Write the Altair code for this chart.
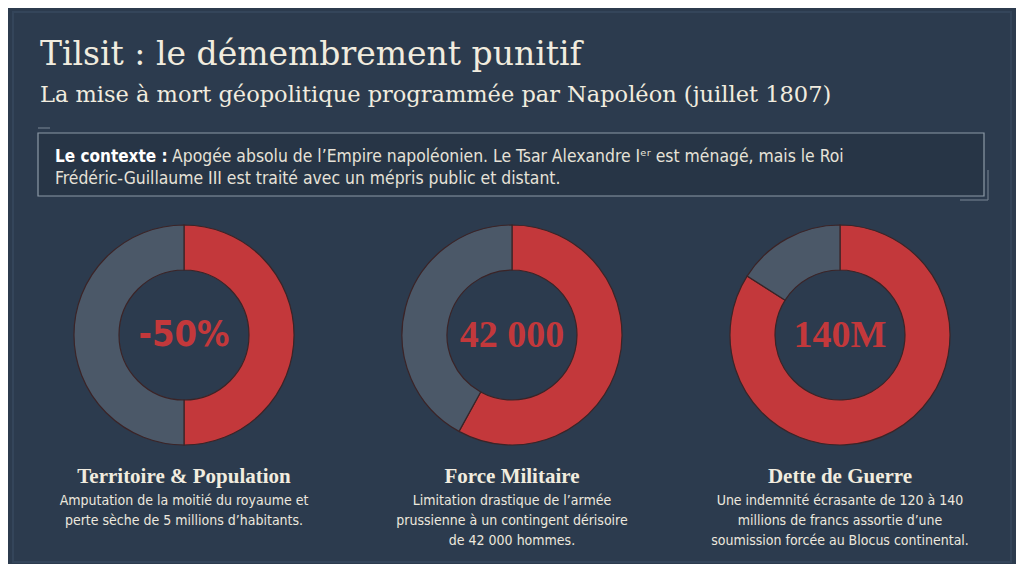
import altair as alt
import pandas as pd

# ---------------- data ----------------
panels = ["Territoire & Population", "Force Militaire", "Dette de Guerre"]
impact_share = [50, 58, 84]      # red part of each ring (read from the arcs)
rest_share = [50, 42, 16]        # grey remainder
center_labels = ["-50%", "42 000", "140M"]
descriptions = [
    "Amputation de la moitié du royaume et\nperte sèche de 5 millions d’habitants.",
    "Limitation drastique de l’armée\nprussienne à un contingent dérisoire\nde 42 000 hommes.",
    "Une indemnité écrasante de 120 à 140\nmillions de francs assortie d’une\nsoumission forcée au Blocus continental.",
]
title_text = "Tilsit : le démembrement punitif"
subtitle_text = "La mise à mort géopolitique programmée par Napoléon (juillet 1807)"
context_lead = "Le contexte :"
context_lines = [
    "Apogée absolu de l’Empire napoléonien. Le Tsar Alexandre Iᵉʳ est ménagé, mais le Roi",
    "Frédéric-Guillaume III est traité avec un mépris public et distant.",
]

# ---------------- styles ----------------
BG = "#2c3b4e"
RED = "#c3383b"
GREY = "#4b5868"
CREAM = "#f1ecdf"
SERIF = "DejaVu Serif"
SERIF2 = "Liberation Serif"
SANS = "DejaVu Sans Condensed, Roboto"

ring_rows = []
for i, p in enumerate(panels):
    ring_rows.append({"panel": p, "part": "impact", "value": impact_share[i], "order": 0})
    ring_rows.append({"panel": p, "part": "reste", "value": rest_share[i], "order": 1})
ring_df = pd.DataFrame(ring_rows)

panel_df = pd.DataFrame({"panel": panels, "label": center_labels, "desc": descriptions})

xscale = alt.Scale(domain=panels, range=[176, 832], padding=0)
X = alt.X("panel:N", scale=xscale, axis=None)

one = pd.DataFrame({"k": [0]})

# frame
frame = alt.Chart(one).mark_rect(fill=None, stroke="#34455a", strokeWidth=2).encode(
    x=alt.value(5), x2=alt.value(1003), y=alt.value(4), y2=alt.value(554)
)

# context box
box = alt.Chart(one).mark_rect(fill="#273546", stroke="#8c99a6", strokeWidth=1.2).encode(
    x=alt.value(30), x2=alt.value(976), y=alt.value(125), y2=alt.value(188)
)
accent_r = alt.Chart(one).mark_rule(stroke="#6f7c8a", strokeWidth=1.2).encode(
    x=alt.value(980), y=alt.value(162), y2=alt.value(192)
)
accent_b = alt.Chart(one).mark_rule(stroke="#6f7c8a", strokeWidth=1.2).encode(
    x=alt.value(952), x2=alt.value(980), y=alt.value(192)
)
accent_t = alt.Chart(one).mark_rule(stroke="#6f7c8a", strokeWidth=1.2).encode(
    x=alt.value(30), x2=alt.value(42), y=alt.value(120)
)

title = alt.Chart(pd.DataFrame({"t": [title_text]})).mark_text(
    font=SERIF, fontSize=33, color=CREAM, align="left", baseline="alphabetic"
).encode(x=alt.value(32), y=alt.value(57), text="t:N")

subtitle = alt.Chart(pd.DataFrame({"t": [subtitle_text]})).mark_text(
    font=SERIF, fontSize=22.5, color=CREAM, align="left", baseline="alphabetic"
).encode(x=alt.value(32), y=alt.value(94), text="t:N")

lead = alt.Chart(pd.DataFrame({"t": [context_lead]})).mark_text(
    font=SANS, fontSize=17, fontWeight="bold", color="#ffffff", align="left", baseline="middle"
).encode(x=alt.value(47), y=alt.value(149), text="t:N")

ctx1 = alt.Chart(pd.DataFrame({"t": [context_lines[0]]})).mark_text(
    font=SANS, fontSize=17.4, color="#e6e2d8", align="left", baseline="middle"
).encode(x=alt.value(164), y=alt.value(149), text="t:N")

ctx2 = alt.Chart(pd.DataFrame({"t": [context_lines[1]]})).mark_text(
    font=SANS, fontSize=17.4, color="#e6e2d8", align="left", baseline="middle"
).encode(x=alt.value(47), y=alt.value(171), text="t:N")

rings = alt.Chart(ring_df).transform_stack(
    stack="value", groupby=["panel"], sort=[alt.SortField("order")], as_=["t0", "t1"]
).mark_arc(innerRadius=65, outerRadius=110, stroke="#3b2427", strokeWidth=1.2).encode(
    x=X,
    y=alt.value(327),
    theta=alt.Theta("t0:Q", scale=alt.Scale(domain=[0, 100])),
    theta2="t1:Q",
    color=alt.Color("part:N", scale=alt.Scale(domain=["impact", "reste"], range=[RED, GREY]), legend=None),
)

center_sans = alt.Chart(panel_df).transform_filter(
    alt.datum.panel == panels[0]
).mark_text(font=SANS, fontSize=36, fontWeight="bold", color=RED, baseline="middle", align="center").encode(
    x=X, y=alt.value(327), text="label:N"
)
center_serif = alt.Chart(panel_df).transform_filter(
    alt.datum.panel != panels[0]
).mark_text(font=SERIF2, fontSize=38, fontWeight="bold", color=RED, baseline="middle", align="center").encode(
    x=X, y=alt.value(328), text="label:N"
)

headings = alt.Chart(panel_df).mark_text(
    font=SERIF2, fontSize=21, fontWeight="bold", color=CREAM, baseline="middle", align="center"
).encode(x=X, y=alt.value(469), text="panel:N")

descs = alt.Chart(panel_df).mark_text(
    font=SANS, fontSize=14, color="#ece8de", baseline="middle", align="center",
    lineBreak="\n", lineHeight=20
).encode(x=X, y=alt.value(493), text="desc:N")

chart = alt.layer(
    frame, box, accent_r, accent_b, accent_t, title, subtitle, lead, ctx1, ctx2,
    rings, center_sans, center_serif, headings, descs
).properties(
    width=1008, height=556, padding=0,
    autosize=alt.AutoSizeParams(type="fit", contains="padding"),
).configure(background=BG).configure_view(stroke=None)

chart.save("out.html", embed_options={"renderer": "svg", "actions": False})
